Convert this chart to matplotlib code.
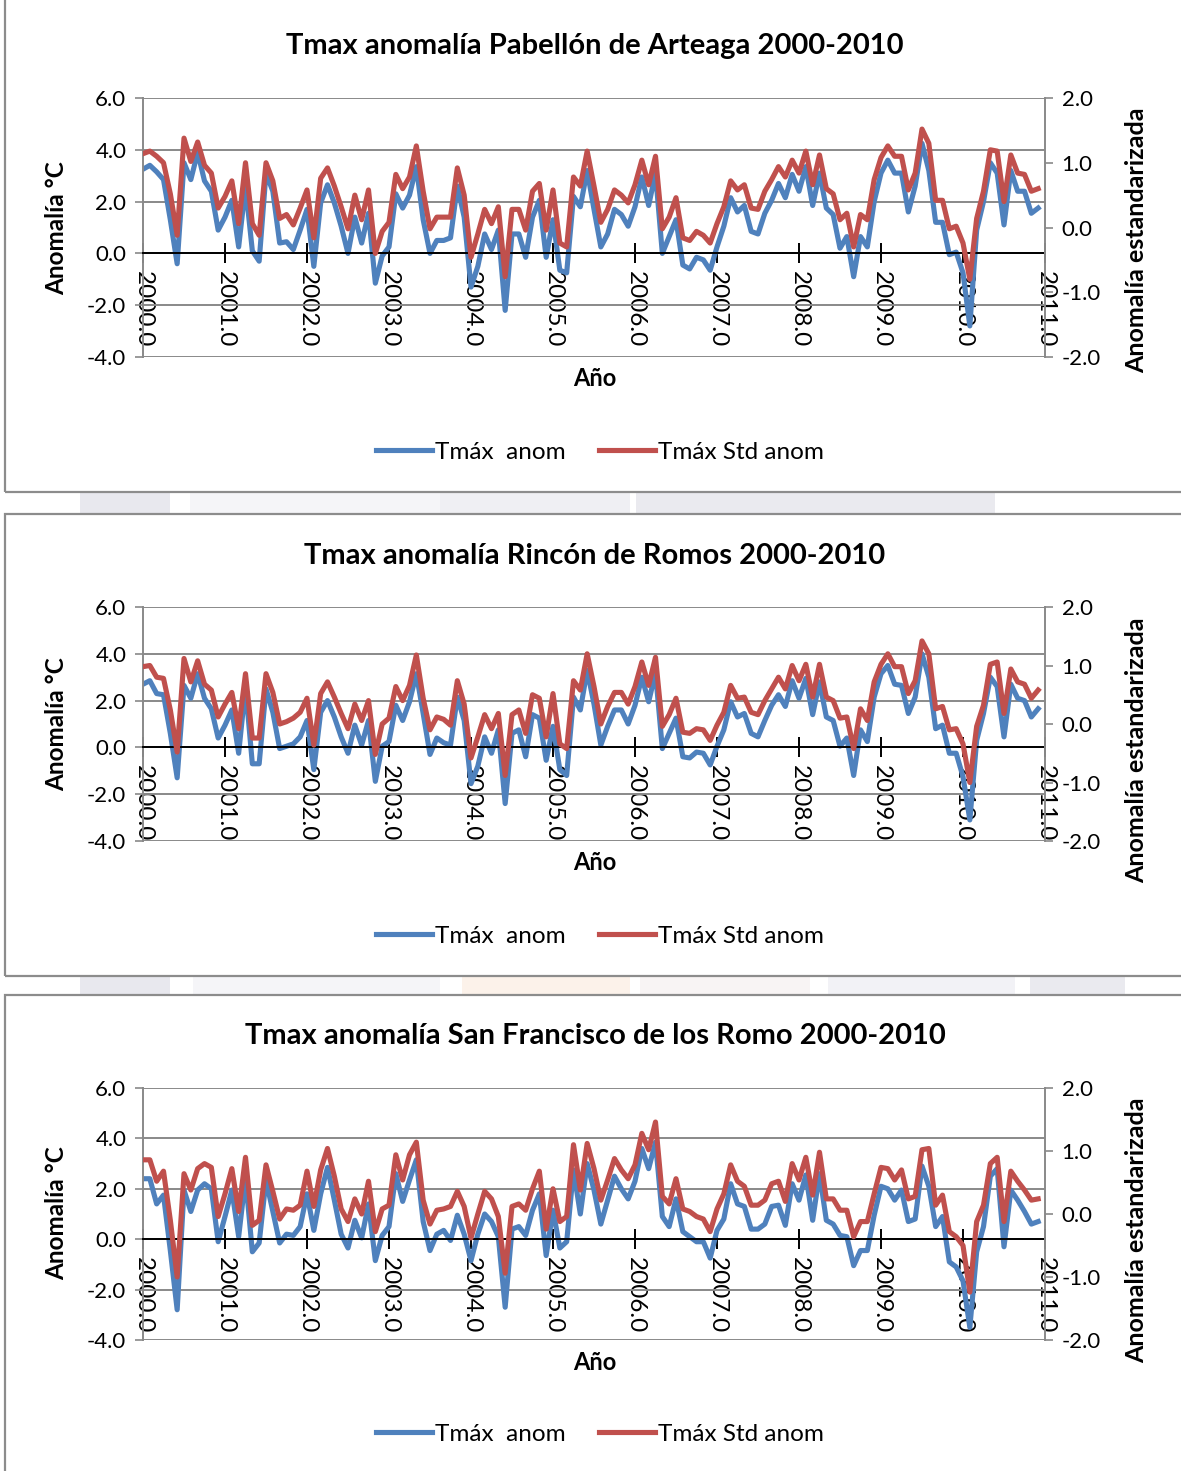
import numpy as np
import matplotlib
matplotlib.use("Agg")
import matplotlib.pyplot as plt
from matplotlib.patches import Rectangle
from matplotlib.lines import Line2D
from matplotlib.ticker import FormatStrFormatter

plt.rcParams['font.family'] = ['Lato', 'DejaVu Sans']

# Monthly values Jan 2000 - Dec 2010
months = 2000 + np.arange(132) / 12.0

titles = ["Tmax anomalía Pabellón de Arteaga 2000-2010",
          "Tmax anomalía Rincón de Romos 2000-2010",
          "Tmax anomalía San Francisco de los Romo 2000-2010"]

# Tmax anomaly (degC) - Pabellon de Arteaga
blue1 = [3.25, 3.4, 3.15, 2.85, 1.3, -0.4, 3.5, 2.85, 3.9, 2.8, 2.4, 0.9,
         1.4, 2.05, 0.25, 2.6, 0.1, -0.3, 3.1, 2.4, 0.4, 0.45, 0.15, 0.9,
         1.7, -0.5, 1.95, 2.65, 1.95, 1.05, 0.0, 1.4, 0.4, 1.55, -1.15, -0.1,
         0.25, 2.3, 1.75, 2.25, 3.35, 1.3, 0.0, 0.5, 0.5, 0.6, 2.6, 1.4,
         -1.3, -0.5, 0.75, 0.15, 0.9, -2.2, 0.75, 0.75, -0.15, 1.4, 2.05, -0.15,
         1.3, -0.65, -0.75, 2.2, 1.8, 3.2, 1.7, 0.25, 0.75, 1.7, 1.5, 1.05,
         1.8, 2.95, 1.85, 3.1, 0.0, 0.65, 1.3, -0.45, -0.6, -0.15, -0.25, -0.65,
         0.25, 1.05, 2.15, 1.6, 1.85, 0.85, 0.75, 1.55, 2.05, 2.7, 2.15, 3.05,
         2.4, 3.35, 1.85, 3.1, 1.75, 1.5, 0.2, 0.65, -0.9, 0.65, 0.25, 2.0,
         3.1, 3.6, 3.1, 3.1, 1.6, 2.6, 4.25, 3.2, 1.2, 1.2, -0.05, 0.05,
         -0.75, -2.8, 0.9, 2.0, 3.5, 3.1, 1.1, 3.2, 2.4, 2.4, 1.55, 1.75]
# standardized anomaly
std1 = [1.14, 1.18, 1.10, 1.00, 0.52, -0.12, 1.38, 1.02, 1.32, 0.96, 0.84, 0.30,
        0.48, 0.72, 0.06, 1.00, 0.06, -0.12, 1.00, 0.72, 0.14, 0.20, 0.04, 0.30,
        0.58, -0.16, 0.76, 0.92, 0.64, 0.32, -0.02, 0.50, 0.12, 0.58, -0.40, -0.06,
        0.08, 0.82, 0.60, 0.78, 1.26, 0.56, -0.02, 0.16, 0.16, 0.16, 0.92, 0.50,
        -0.46, -0.10, 0.28, 0.06, 0.32, -0.76, 0.28, 0.28, -0.04, 0.56, 0.68, -0.04,
        0.58, -0.24, -0.30, 0.78, 0.64, 1.18, 0.64, 0.08, 0.28, 0.58, 0.50, 0.38,
        0.66, 1.04, 0.66, 1.10, -0.02, 0.16, 0.46, -0.16, -0.20, -0.06, -0.12, -0.24,
        0.06, 0.32, 0.72, 0.58, 0.66, 0.30, 0.28, 0.56, 0.74, 0.94, 0.78, 1.04,
        0.84, 1.18, 0.66, 1.12, 0.60, 0.52, 0.12, 0.22, -0.30, 0.20, 0.12, 0.74,
        1.08, 1.26, 1.10, 1.10, 0.58, 0.84, 1.52, 1.30, 0.42, 0.42, -0.02, 0.02,
        -0.24, -0.80, 0.14, 0.56, 1.20, 1.18, 0.40, 1.12, 0.84, 0.82, 0.56, 0.60]

# Rincon de Romos
blue2 = [2.7, 2.85, 2.3, 2.25, 0.6, -1.3, 2.65, 2.1, 3.15, 2.1, 1.65, 0.4,
         0.95, 1.6, -0.25, 2.6, -0.7, -0.7, 2.5, 1.5, -0.05, 0.05, 0.15, 0.45,
         1.15, -0.95, 1.5, 2.0, 1.3, 0.45, -0.25, 0.95, 0.1, 1.15, -1.45, 0.05,
         0.25, 1.8, 1.15, 1.95, 3.15, 1.45, -0.3, 0.4, 0.2, 0.1, 2.15, 1.15,
         -1.55, -0.8, 0.45, -0.25, 0.75, -2.4, 0.6, 0.75, -0.4, 1.4, 1.25, -0.55,
         0.9, -0.95, -1.2, 2.15, 1.6, 3.3, 1.85, 0.1, 0.9, 1.6, 1.6, 1.0,
         1.8, 3.0, 1.95, 3.2, -0.05, 0.6, 1.25, -0.4, -0.45, -0.2, -0.25, -0.75,
         0.05, 0.75, 1.95, 1.3, 1.45, 0.6, 0.45, 1.15, 1.8, 2.25, 1.75, 2.85,
         2.1, 2.95, 1.4, 2.8, 1.3, 1.15, 0.05, 0.4, -1.2, 0.75, 0.25, 2.15,
         3.15, 3.5, 2.7, 2.65, 1.45, 2.15, 4.0, 3.0, 0.8, 0.95, -0.25, -0.25,
         -1.25, -3.1, 0.3, 1.45, 3.0, 2.6, 0.45, 2.7, 2.1, 2.0, 1.3, 1.65]
std2 = [0.98, 1.00, 0.80, 0.78, 0.24, -0.48, 1.12, 0.72, 1.08, 0.68, 0.58, 0.12,
        0.34, 0.54, -0.08, 0.86, -0.24, -0.24, 0.86, 0.54, 0.00, 0.04, 0.10, 0.20,
        0.44, -0.36, 0.52, 0.72, 0.46, 0.18, -0.08, 0.34, 0.06, 0.40, -0.52, 0.00,
        0.10, 0.64, 0.40, 0.66, 1.18, 0.44, -0.10, 0.12, 0.08, -0.02, 0.74, 0.34,
        -0.58, -0.22, 0.16, -0.08, 0.18, -0.88, 0.16, 0.24, -0.16, 0.50, 0.44, -0.22,
        0.52, -0.34, -0.42, 0.74, 0.58, 1.20, 0.64, 0.00, 0.30, 0.54, 0.54, 0.34,
        0.64, 1.06, 0.66, 1.14, -0.04, 0.16, 0.44, -0.14, -0.16, -0.08, -0.10, -0.28,
        -0.02, 0.20, 0.66, 0.44, 0.46, 0.20, 0.16, 0.40, 0.60, 0.80, 0.60, 1.00,
        0.74, 1.02, 0.46, 1.02, 0.46, 0.40, 0.10, 0.12, -0.42, 0.26, 0.06, 0.72,
        1.02, 1.20, 0.98, 0.98, 0.52, 0.74, 1.42, 1.20, 0.26, 0.30, -0.10, -0.08,
        -0.34, -1.00, -0.04, 0.32, 1.02, 1.06, 0.18, 0.94, 0.72, 0.68, 0.44, 0.58]

# San Francisco de los Romo
blue3 = [2.4, 2.4, 1.4, 1.75, -0.45, -2.8, 1.95, 1.1, 1.95, 2.2, 2.0, -0.1,
         0.9, 1.95, 0.1, 2.45, -0.5, -0.15, 2.35, 1.1, -0.15, 0.2, 0.15, 0.5,
         1.8, 0.35, 1.8, 2.85, 1.55, 0.2, -0.35, 0.75, 0.05, 1.4, -0.85, 0.15,
         0.5, 2.6, 1.5, 2.35, 3.15, 0.7, -0.45, 0.2, 0.35, -0.05, 0.95, 0.2,
         -0.85, 0.2, 1.0, 0.7, 0.1, -2.7, 0.4, 0.5, 0.15, 1.15, 1.8, -0.65,
         1.15, -0.35, -0.1, 2.75, 1.0, 3.0, 1.95, 0.6, 1.55, 2.5, 2.0, 1.6,
         2.3, 3.6, 2.8, 3.85, 0.9, 0.5, 1.6, 0.3, 0.1, -0.1, -0.1, -0.75,
         0.35, 0.8, 2.2, 1.4, 1.3, 0.4, 0.4, 0.6, 1.3, 1.35, 0.55, 2.2,
         1.55, 2.55, 0.75, 2.6, 0.75, 0.6, 0.15, 0.1, -1.05, -0.45, -0.45, 0.95,
         2.1, 2.0, 1.55, 1.95, 0.7, 0.8, 2.9, 2.1, 0.5, 0.9, -0.9, -1.1,
         -1.65, -3.5, -0.5, 0.5, 2.5, 2.8, -0.3, 1.95, 1.55, 1.1, 0.6, 0.7]
std3 = [0.86, 0.86, 0.52, 0.68, -0.10, -1.00, 0.64, 0.38, 0.72, 0.80, 0.74, -0.04,
        0.32, 0.72, 0.04, 0.90, -0.18, -0.10, 0.78, 0.36, -0.08, 0.08, 0.06, 0.14,
        0.68, 0.12, 0.70, 1.04, 0.60, 0.08, -0.12, 0.24, 0.00, 0.52, -0.28, 0.08,
        0.14, 0.94, 0.54, 0.94, 1.14, 0.22, -0.16, 0.06, 0.08, 0.12, 0.36, 0.12,
        -0.38, 0.00, 0.36, 0.24, -0.04, -0.94, 0.12, 0.16, 0.06, 0.40, 0.68, -0.24,
        0.40, -0.12, -0.04, 1.10, 0.38, 1.12, 0.72, 0.22, 0.54, 0.88, 0.70, 0.56,
        0.78, 1.28, 1.02, 1.46, 0.28, 0.16, 0.56, 0.08, 0.04, -0.04, -0.08, -0.28,
        0.08, 0.32, 0.78, 0.52, 0.44, 0.14, 0.14, 0.22, 0.48, 0.52, 0.20, 0.80,
        0.54, 0.90, 0.30, 0.98, 0.24, 0.24, 0.06, 0.06, -0.36, -0.12, -0.12, 0.32,
        0.74, 0.72, 0.54, 0.70, 0.24, 0.28, 1.02, 1.04, 0.14, 0.30, -0.28, -0.36,
        -0.50, -1.24, -0.12, 0.14, 0.80, 0.90, -0.12, 0.68, 0.52, 0.38, 0.22, 0.24]

anoms = [blue1, blue2, blue3]
stds = [std1, std2, std3]

BLUE = '#4F81BD'
RED = '#C0504D'
GRID = '#898989'
LW = 3.7

W, H = 1181, 1471
f = plt.figure(figsize=(W / 100, H / 100), dpi=100)


def fx(x):
    return x / W


def fy(y):
    return 1 - y / H


# panel layout in pixels: box top/bottom, plot top/bottom, title, xlabel, legend, y-label centers
panels = [
    dict(box=(-3, 492), top=98, bot=357, title=46, xlab=378, leg=452, yl=228, yr=240),
    dict(box=(514, 976), top=607, bot=841, title=556, xlab=862, leg=936, yl=724, yr=750),
    dict(box=(995, 1480), top=1088, bot=1340, title=1036, xlab=1362, leg=1434, yl=1213, yr=1230),
]

# faint bands between the panels
for (x0, x1, y0, y1, c) in [(80, 170, 493, 513, '#e8e8ee'), (190, 440, 493, 513, '#f5f5f8'),
                            (440, 630, 493, 513, '#efeff3'), (636, 995, 493, 513, '#eaeaef'),
                            (80, 170, 977, 994, '#e8e8ee'), (193, 440, 977, 994, '#f5f5f8'),
                            (462, 630, 977, 994, '#fcf2ea'), (640, 810, 977, 994, '#f8f4f4'),
                            (828, 1015, 977, 994, '#f2f2f6'), (1030, 1125, 977, 994, '#eaeaef')]:
    f.patches.append(Rectangle((fx(x0), fy(y1)), fx(x1 - x0), (y1 - y0) / H,
                               transform=f.transFigure, facecolor=c, edgecolor='none', zorder=-5))

for p, title, anom, std in zip(panels, titles, anoms, stds):
    b0, b1 = p['box']
    f.patches.append(Rectangle((fx(5), fy(b1)), fx(1200), (b1 - b0) / H, transform=f.transFigure,
                               fill=False, edgecolor='#8c8c8c', linewidth=1.6))

    ax = f.add_axes([fx(143), fy(p['bot']), fx(1045 - 143), (p['bot'] - p['top']) / H])
    ax.set_xlim(2000, 2011)
    ax.set_ylim(-4, 6)
    ax.set_yticks(np.arange(-4, 7, 2))
    ax.set_xticks(np.arange(2000, 2012, 1))
    ax.yaxis.set_major_formatter(FormatStrFormatter('%.1f'))
    ax.xaxis.set_major_formatter(FormatStrFormatter('%.1f'))
    ax.grid(axis='y', color=GRID, linewidth=1.4)
    ax.set_axisbelow(True)
    ax.spines['top'].set_visible(False)
    ax.spines['right'].set_visible(False)
    ax.spines['left'].set_color(GRID)
    ax.spines['left'].set_linewidth(1.4)
    ax.spines['bottom'].set_position(('data', 0))
    ax.spines['bottom'].set_color('black')
    ax.spines['bottom'].set_linewidth(1.4)
    ax.tick_params(axis='y', direction='out', length=6, width=1.2, color=GRID,
                   labelsize=16, pad=6)
    ax.tick_params(axis='x', direction='inout', length=14, width=1.4, color='black',
                   labelsize=17.5, pad=6, labelrotation=-90)
    ax.plot(months, anom, color=BLUE, linewidth=LW, solid_joinstyle='round')

    ax2 = ax.twinx()
    ax2.set_ylim(-2, 2)
    ax2.set_yticks(np.arange(-2, 3, 1))
    ax2.yaxis.set_major_formatter(FormatStrFormatter('%.1f'))
    for s in ['top', 'bottom', 'left']:
        ax2.spines[s].set_visible(False)
    ax2.spines['right'].set_color(GRID)
    ax2.spines['right'].set_linewidth(1.4)
    ax2.tick_params(axis='y', direction='out', length=6, width=1.2, color=GRID,
                    labelsize=16, pad=6)
    ax2.plot(months, std, color=RED, linewidth=LW, solid_joinstyle='round')

    f.text(fx(595), fy(p['title']), title, ha='center', va='center', fontsize=21, fontweight='bold')
    f.text(fx(595), fy(p['xlab']), "Año", ha='center', va='center', fontsize=17, fontweight='bold')
    f.text(fx(57), fy(p['yl']), "Anomalía °C", ha='center', va='center', rotation=90,
           fontsize=17.5, fontweight='bold')
    f.text(fx(1137), fy(p['yr']), "Anomalía estandarizada", ha='center', va='center',
           rotation=90, fontsize=18, fontweight='bold')

    handles = [Line2D([], [], color=BLUE, linewidth=LW), Line2D([], [], color=RED, linewidth=LW)]
    f.legend(handles, ["Tmáx  anom", "Tmáx Std anom"], loc='center',
             bbox_to_anchor=(fx(600), fy(p['leg'])), ncol=2, frameon=False, fontsize=17.5,
             handlelength=2.3, handletextpad=0.1, columnspacing=1.4)

plt.savefig("out.png", dpi=100)
plt.close(f)
